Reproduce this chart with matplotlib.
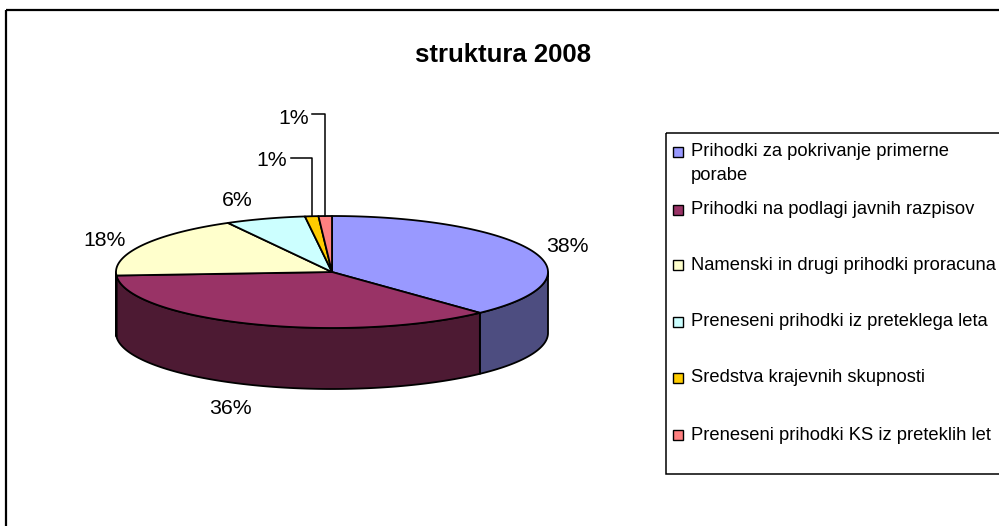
import numpy as np
import matplotlib
matplotlib.use("Agg")
import matplotlib.pyplot as plt
from matplotlib.patches import Polygon, Rectangle

# ---- data ----
title = "struktura 2008"
categories = [
    "Prihodki za pokrivanje primerne\nporabe",
    "Prihodki na podlagi javnih razpisov",
    "Namenski in drugi prihodki proracuna",
    "Preneseni prihodki iz preteklega leta",
    "Sredstva krajevnih skupnosti",
    "Preneseni prihodki KS iz preteklih let",
]
values = [38, 36, 18, 6, 1, 1]
labels = ["38%", "36%", "18%", "6%", "1%", "1%"]
top_colors = ["#9999FF", "#993366", "#FFFFCC", "#CCFFFF", "#FFCC00", "#FF8080"]
side_colors = ["#4D4D80", "#4D1A33", "#80806A", "#6A8080", "#806600", "#804040"]

plt.rcParams['font.family'] = ['Liberation Sans', 'DejaVu Sans']

W, H = 999, 526
fig = plt.figure(figsize=(W / 100, H / 100), dpi=100)
ax = fig.add_axes([0, 0, 1, 1])
ax.set_xlim(0, W)
ax.set_ylim(H, 0)
ax.axis("off")

# outer chart frame
ax.add_patch(Rectangle((6, 10), 1100, 600, fill=False, lw=1.6, ec="black"))

# pie geometry (pixel space)
cx, cy, rx, ry, depth = 332, 272, 216, 56, 61

vals = np.array(values, dtype=float)
fr = vals / vals.sum()
starts = 90 - 360 * np.concatenate([[0], np.cumsum(fr)[:-1]])
ends = starts - 360 * fr

def arc(a1, a2, n=120, dy=0):
    t = np.radians(np.linspace(a1, a2, n))
    return np.column_stack([cx + rx * np.cos(t), cy - ry * np.sin(t) + dy])

# side walls (front half: angles in [-180, 0])
for s, e, c in zip(starts, ends, side_colors):
    lo, hi = e, s
    for off in (0, -360, 360):
        a, b = max(lo + off, -180), min(hi + off, 0)
        if b > a:
            top = arc(b, a)
            bot = arc(a, b, dy=depth)
            poly = np.vstack([top, bot])
            ax.add_patch(Polygon(poly, closed=True, fc=c, ec="black", lw=1.3, joinstyle="round"))

# top faces
for s, e, c in zip(starts, ends, top_colors):
    pts = np.vstack([[cx, cy], arc(s, e)])
    ax.add_patch(Polygon(pts, closed=True, fc=c, ec="black", lw=1.3, joinstyle="round"))

# data labels
fs_lab = 15.3
label_pos = [(567, 247), (230, 408), (105, 240), (237, 201), (272, 160), (294, 118)]
for (x, y), t in zip(label_pos, labels):
    ax.text(x, y, t, fontsize=fs_lab, ha="center", va="center")

# leader lines for the small slices
for i, (ty, lx) in zip([4, 5], [(158, 291), (114, 312)]):
    mid = np.radians((starts[i] + ends[i]) / 2)
    px = cx + rx * np.cos(mid)
    py = cy - ry * np.sin(mid)
    ax.plot([lx, px, px], [ty, ty, py], color="black", lw=1.1)

# title
ax.text(503, 55, title, fontsize=18.5, fontweight="bold", ha="center", va="center")

# legend
ax.add_patch(Rectangle((666, 133), 500, 341, fill=False, lw=1.1, ec="black"))
leg_y = [152, 210, 265, 322, 378, 435]
for y, name, c in zip(leg_y, categories, top_colors):
    ax.add_patch(Rectangle((673, y - 5), 10, 10, fc=c, ec="black", lw=1.0))
    for k, line in enumerate(name.split("\n")):
        ax.text(691, y + 23 * k, line, fontsize=13.2, ha="left", va="center")

fig.savefig("out.png", dpi=100)
